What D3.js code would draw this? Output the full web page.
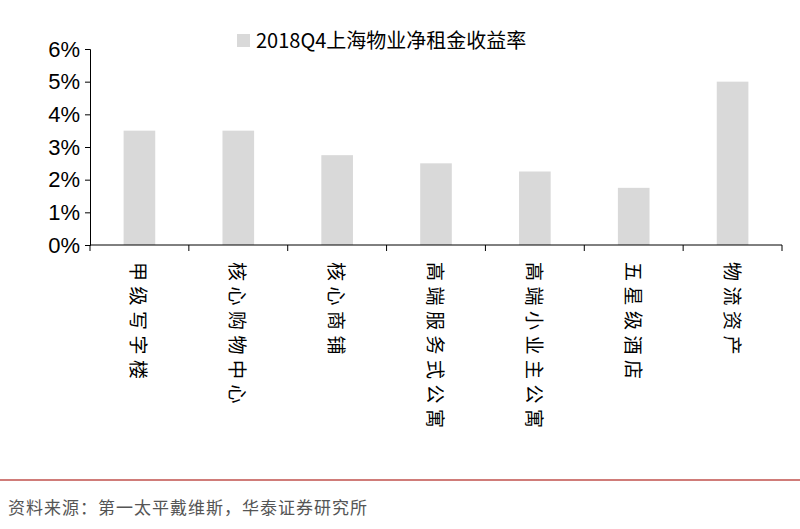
<!DOCTYPE html>
<html><head><meta charset="utf-8">
<script src="https://cdn.jsdelivr.net/npm/d3@7"></script>
<style>body{margin:0;background:#fff}svg{display:block}</style>
</head><body>
<svg id="c" width="800" height="529"></svg>
<script>
// data
var categories = ["甲级写字楼","核心购物中心","核心商铺","高端服务式公寓","高端小业主公寓","五星级酒店","物流资产"];
var yields = [3.5, 3.5, 2.75, 2.5, 2.25, 1.75, 5.0];
var yTicks = [0, 1, 2, 3, 4, 5, 6];
var seriesName = "2018Q4上海物业净租金收益率";
var source = "资料来源：第一太平戴维斯，华泰证券研究所";

var svg = d3.select("#c"),
    font = "'Noto Sans CJK SC', sans-serif";

var x = d3.scaleBand().domain(categories).range([90, 782]).paddingInner(0.68).paddingOuter(0.34);
var y = d3.scaleLinear().domain([0, 6]).range([245, 49]);

svg.selectAll("rect.bar").data(yields).enter().append("rect")
    .attr("class", "bar")
    .attr("x", function (d, i) { return x(categories[i]); })
    .attr("y", function (d) { return y(d); })
    .attr("width", x.bandwidth())
    .attr("height", function (d) { return y(0) - y(d); })
    .attr("fill", "#d9d9d9");

var ya = svg.append("g").attr("transform", "translate(90,0)")
    .call(d3.axisLeft(y).tickValues(yTicks).tickFormat(function (d) { return d + "%"; }).tickSize(5));
ya.select(".domain").attr("stroke", "#000");
ya.selectAll("text").attr("font-family", "Arial, 'Liberation Sans', sans-serif").attr("font-size", 22).attr("fill", "#000").attr("dx", -2);

// x axis with ticks at category boundaries
svg.append("line").attr("x1", 90).attr("x2", 782).attr("y1", y(0)).attr("y2", y(0)).attr("stroke", "#000");
d3.range(categories.length + 1).forEach(function (i) {
    var xx = 90 + i * (692 / categories.length);
    svg.append("line").attr("x1", xx).attr("x2", xx).attr("y1", y(0)).attr("y2", y(0) + 6).attr("stroke", "#000");
});

svg.selectAll("text.cat").data(categories).enter().append("text")
    .attr("class", "cat")
    .attr("x", function (d) { return x(d) + x.bandwidth() / 2 - 8; })
    .attr("y", 262)
    .style("writing-mode", "vertical-rl")
    .style("text-orientation", "sideways")
    .attr("letter-spacing", 5.5)
    .attr("font-family", font).attr("font-size", 19).attr("fill", "#000")
    .text(function (d) { return d; });

// legend
svg.append("rect").attr("x", 237).attr("y", 34).attr("width", 13).attr("height", 13).attr("fill", "#d9d9d9");
svg.append("text").attr("x", 256).attr("y", 48).attr("font-family", font).attr("font-size", 20).attr("fill", "#000").text(seriesName);

// footer
svg.append("line").attr("x1", 0).attr("x2", 800).attr("y1", 480).attr("y2", 480).attr("stroke", "#c0504d").attr("stroke-width", 1.5);
svg.append("text").attr("x", 8).attr("y", 514).attr("font-family", font).attr("font-size", 17).attr("fill", "#555").attr("letter-spacing", 1).text(source);
</script>
</body></html>
